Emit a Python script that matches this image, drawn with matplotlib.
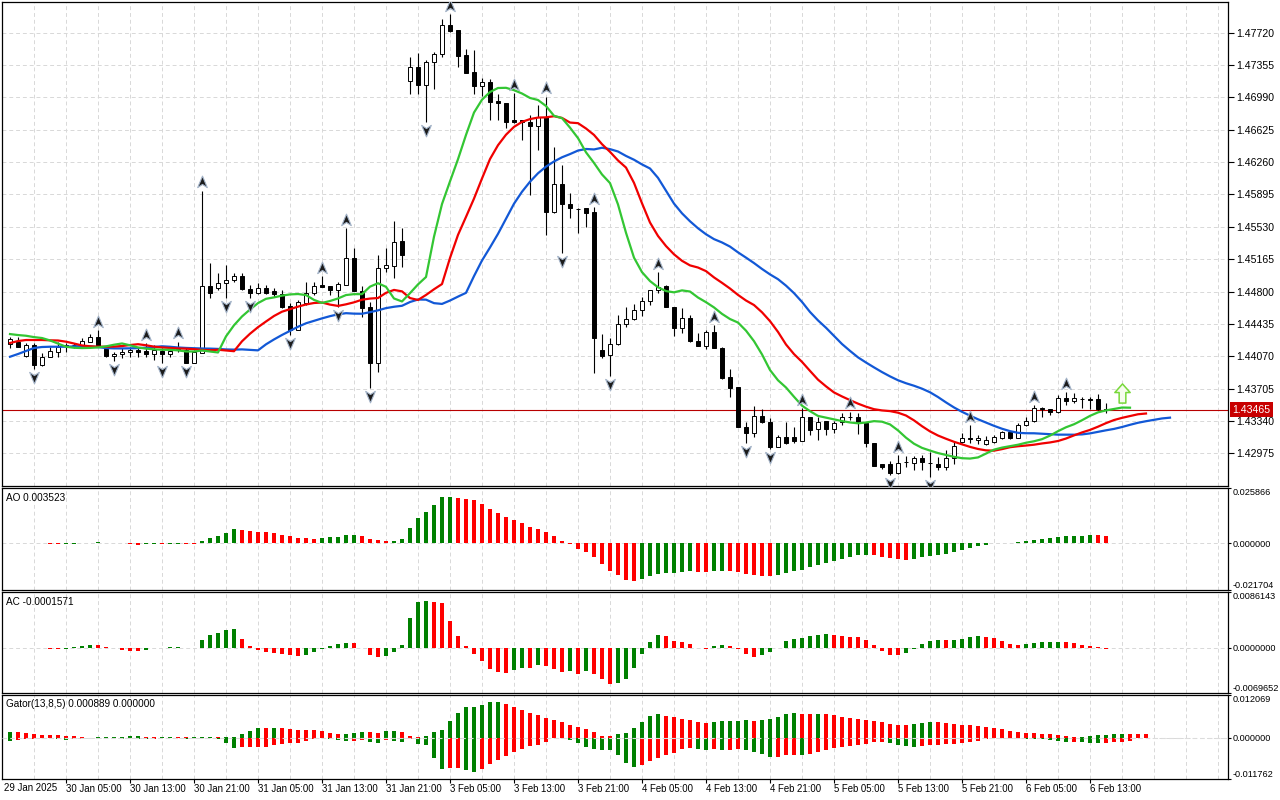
import numpy as np
import pandas as pd
import matplotlib
matplotlib.use("Agg")
import matplotlib.pyplot as plt
from matplotlib.path import Path

plt.rcParams["font.family"] = ["Liberation Sans", "DejaVu Sans"]

# hourly bars (index 0 = first visible bar)
opens = [
    1.44208, 1.44234, 1.44072, 1.44196, 1.43971, 1.44058, 1.44121, 1.44185, 1.44191, 1.44196,
    1.44234, 1.44290, 1.44151, 1.44072, 1.44095, 1.44114, 1.44140, 1.44129, 1.44095, 1.44129,
    1.44095, 1.44177, 1.44140, 1.43997, 1.44103, 1.44862, 1.44836, 1.44892, 1.44930, 1.44975,
    1.44825, 1.44780, 1.44836, 1.44802, 1.44772, 1.44636, 1.44366, 1.44674, 1.44780, 1.44873,
    1.44862, 1.44817, 1.44873, 1.45175, 1.44809, 1.44622, 1.43997, 1.45063, 1.45092, 1.45373,
    1.47175, 1.47330, 1.47130, 1.47386, 1.47476, 1.47807, 1.47751, 1.47469, 1.47280, 1.47122,
    1.47160, 1.46953, 1.46924, 1.46735, 1.46735, 1.46709, 1.46671, 1.46772, 1.45701, 1.46010,
    1.45788, 1.45731, 1.45739, 1.45701, 1.44140, 1.44084, 1.44208, 1.44430, 1.44487, 1.44591,
    1.44693, 1.44817, 1.44862, 1.44622, 1.44385, 1.44498, 1.44245, 1.44185, 1.44340, 1.44159,
    1.43833, 1.43719, 1.43275, 1.43200, 1.43399, 1.43324, 1.43049, 1.43162, 1.43162, 1.43117,
    1.43388, 1.43245, 1.43342, 1.43245, 1.43331, 1.43381, 1.43381, 1.43313, 1.43095, 1.42851,
    1.42851, 1.42749, 1.42880, 1.42869, 1.42918, 1.42865, 1.42851, 1.42817, 1.42918, 1.43099,
    1.43144, 1.43125, 1.43080, 1.43106, 1.43144, 1.43212, 1.43144, 1.43294, 1.43342, 1.43482,
    1.43470, 1.43444, 1.43595, 1.43568, 1.43587, 1.43584, 1.43584, 1.43474,
]
highs = [
    1.44290, 1.44290, 1.44216, 1.44216, 1.44110, 1.44177, 1.44234, 1.44222, 1.44219, 1.44272,
    1.44320, 1.44366, 1.44159, 1.44121, 1.44159, 1.44177, 1.44177, 1.44222, 1.44196, 1.44159,
    1.44185, 1.44236, 1.44159, 1.44140, 1.45938, 1.45119, 1.45013, 1.45099, 1.45006, 1.45006,
    1.44873, 1.44892, 1.44873, 1.44836, 1.44817, 1.44667, 1.44704, 1.44911, 1.44911, 1.44975,
    1.44862, 1.44911, 1.45514, 1.45288, 1.44862, 1.44685, 1.45213, 1.45288, 1.45600, 1.45514,
    1.47443, 1.47495, 1.47412, 1.47506, 1.47875, 1.47931, 1.47751, 1.47533, 1.47525, 1.47206,
    1.47198, 1.47029, 1.46924, 1.47037, 1.46735, 1.46792, 1.46905, 1.46999, 1.46434, 1.46228,
    1.45915, 1.45737, 1.45739, 1.45751, 1.44321, 1.44272, 1.44535, 1.44628, 1.44655, 1.44741,
    1.44817, 1.45024, 1.44873, 1.44622, 1.44610, 1.44535, 1.44328, 1.44366, 1.44422, 1.44177,
    1.43926, 1.43719, 1.43331, 1.43508, 1.43471, 1.43369, 1.43181, 1.43324, 1.43275, 1.43482,
    1.43388, 1.43388, 1.43342, 1.43342, 1.43426, 1.43446, 1.43426, 1.43313, 1.43095, 1.42851,
    1.42891, 1.42956, 1.42944, 1.42944, 1.42956, 1.42993, 1.42930, 1.43012, 1.43106, 1.43200,
    1.43294, 1.43181, 1.43170, 1.43181, 1.43230, 1.43219, 1.43313, 1.43388, 1.43519, 1.43500,
    1.43470, 1.43632, 1.43670, 1.43651, 1.43613, 1.43613, 1.43644, 1.43539,
]
lows = [
    1.44159, 1.44177, 1.44064, 1.43922, 1.43963, 1.44058, 1.44064, 1.44121, 1.44163, 1.44185,
    1.44227, 1.44177, 1.44064, 1.44019, 1.44046, 1.44064, 1.44064, 1.44058, 1.44027, 1.43990,
    1.44058, 1.44121, 1.43997, 1.43997, 1.44103, 1.44723, 1.44817, 1.44723, 1.44911, 1.44817,
    1.44723, 1.44772, 1.44772, 1.44741, 1.44610, 1.44309, 1.44366, 1.44648, 1.44760, 1.44854,
    1.44760, 1.44628, 1.44873, 1.44809, 1.44516, 1.43708, 1.43895, 1.45024, 1.44949, 1.45081,
    1.47029, 1.47029, 1.46716, 1.47082, 1.47449, 1.47725, 1.47337, 1.47262, 1.47029, 1.47006,
    1.46735, 1.46735, 1.46642, 1.46698, 1.46510, 1.45889, 1.46397, 1.45438, 1.45683, 1.45232,
    1.45627, 1.45464, 1.45531, 1.43884, 1.44046, 1.43847, 1.44196, 1.44403, 1.44479, 1.44527,
    1.44648, 1.44780, 1.44622, 1.44302, 1.44328, 1.44234, 1.44185, 1.44148, 1.44159, 1.43810,
    1.43606, 1.43268, 1.43088, 1.43162, 1.43313, 1.43020, 1.43042, 1.43080, 1.43088, 1.43117,
    1.43181, 1.43125, 1.43181, 1.43207, 1.43294, 1.43350, 1.43189, 1.43042, 1.42831, 1.42794,
    1.42730, 1.42741, 1.42824, 1.42786, 1.42786, 1.42707, 1.42786, 1.42786, 1.42854, 1.43088,
    1.43095, 1.43080, 1.43068, 1.43095, 1.43136, 1.43136, 1.43144, 1.43283, 1.43331, 1.43388,
    1.43407, 1.43426, 1.43520, 1.43539, 1.43482, 1.43471, 1.43463, 1.43426,
]
closes = [
    1.44261, 1.44177, 1.44196, 1.43971, 1.44058, 1.44129, 1.44177, 1.44191, 1.44196, 1.44241,
    1.44290, 1.44177, 1.44072, 1.44095, 1.44121, 1.44140, 1.44114, 1.44092, 1.44140, 1.44092,
    1.44132, 1.44140, 1.43997, 1.44121, 1.44862, 1.44786, 1.44892, 1.44930, 1.44975, 1.44825,
    1.44780, 1.44836, 1.44786, 1.44772, 1.44628, 1.44366, 1.44685, 1.44780, 1.44862, 1.44854,
    1.44817, 1.44881, 1.45175, 1.44809, 1.44610, 1.43997, 1.45063, 1.45100, 1.45356, 1.45213,
    1.47330, 1.47130, 1.47386, 1.47480, 1.47807, 1.47743, 1.47461, 1.47269, 1.47122, 1.47167,
    1.46942, 1.46924, 1.46716, 1.46716, 1.46716, 1.46671, 1.46772, 1.45701, 1.46013, 1.45784,
    1.45739, 1.45727, 1.45683, 1.44272, 1.44072, 1.44208, 1.44430, 1.44487, 1.44591, 1.44693,
    1.44817, 1.44854, 1.44622, 1.44385, 1.44498, 1.44245, 1.44185, 1.44340, 1.44159, 1.43821,
    1.43708, 1.43268, 1.43200, 1.43399, 1.43324, 1.43049, 1.43162, 1.43088, 1.43117, 1.43388,
    1.43237, 1.43331, 1.43245, 1.43320, 1.43381, 1.43381, 1.43313, 1.43088, 1.42832, 1.42824,
    1.42749, 1.42869, 1.42877, 1.42918, 1.42880, 1.42861, 1.42817, 1.42918, 1.43057, 1.43144,
    1.43141, 1.43144, 1.43125, 1.43155, 1.43212, 1.43144, 1.43294, 1.43342, 1.43482, 1.43474,
    1.43444, 1.43595, 1.43568, 1.43595, 1.43584, 1.43580, 1.43471, 1.43465,
]

# alligator values shown before the first bar (they come from older history)
jaw_head = [1.44064, 1.44095, 1.44129, 1.44163, 1.44174, 1.44177, 1.44177, 1.44177]
teeth_head = [1.44219, 1.44241, 1.44253, 1.44253, 1.44253]
lips_head = [1.44320, 1.44309, 1.44301]

up_fractals = [11, 17, 21, 24, 39, 42, 55, 63, 67, 73, 81, 88, 99, 105, 111, 120, 128, 132]
down_fractals = [3, 13, 19, 22, 27, 30, 35, 41, 45, 52, 69, 75, 92, 95, 110, 115]

signal_bar = [139]
signal_price = [1.43655]

price_ticks = [1.47720, 1.47355, 1.46990, 1.46625, 1.46260, 1.45895, 1.45530,
               1.45165, 1.44800, 1.44435, 1.44070, 1.43705, 1.43340, 1.42975]
time_labels = ["30 Jan 05:00", "30 Jan 13:00", "30 Jan 21:00", "31 Jan 05:00",
               "31 Jan 13:00", "31 Jan 21:00", "3 Feb 05:00", "3 Feb 13:00",
               "3 Feb 21:00", "4 Feb 05:00", "4 Feb 13:00", "4 Feb 21:00",
               "5 Feb 05:00", "5 Feb 13:00", "5 Feb 21:00", "6 Feb 05:00", "6 Feb 13:00"]
first_label = "29 Jan 2025"

ao_range = (-0.021704, 0.025866)
ac_range = (-0.0069652, 0.0086143)
gator_range = (-0.011762, 0.012069)

GREEN = "#008000"
RED = "#ff0000"

o = np.array(opens)
h = np.array(highs)
l = np.array(lows)
c = np.array(closes)
idx = np.arange(len(o))
median = (h + l) / 2


def smma(vals, period, seed):
    out = np.empty(len(vals))
    prev = seed
    for i, v in enumerate(vals):
        prev = (prev * (period - 1) + v) / period
        out[i] = prev
    return out


def trend_colors(vals):
    cols = []
    cur = GREEN
    for i in range(len(vals)):
        if i > 0:
            if vals[i] > vals[i - 1]:
                cur = GREEN
            elif vals[i] < vals[i - 1]:
                cur = RED
        cols.append(cur)
    return cols


jaw = np.concatenate([jaw_head, smma(median, 13, jaw_head[-1])])
teeth = np.concatenate([teeth_head, smma(median, 8, teeth_head[-1])])
lips = np.concatenate([lips_head, smma(median, 5, lips_head[-1])])

med = pd.Series(median)
ao = (med.rolling(5, min_periods=1).mean() - med.rolling(34, min_periods=1).mean()).to_numpy()
ac = ao - pd.Series(ao).rolling(5, min_periods=1).mean().to_numpy()

gator_up = np.abs(jaw[:len(teeth)] - teeth)
gator_dn = np.abs(teeth[:len(lips)] - lips)

# ---- figure, panels placed in pixels like the terminal window ----
W, H = 1280, 800
fig = plt.figure(figsize=(W / 100, H / 100), dpi=100)


def px_axes(x0, y0, x1, y1):
    return fig.add_axes([x0 / W, 1 - y1 / H, (x1 - x0) / W, (y1 - y0) / H])


ax = px_axes(2, 2, 1228, 486)
ax_ao = px_axes(2, 488, 1228, 590)
ax_ac = px_axes(2, 592, 1228, 693)
ax_g = px_axes(2, 695, 1228, 779)

grid_kw = dict(color="#d8d8d8", linestyle=(0, (4, 3)), linewidth=0.7)
for a in (ax, ax_ao, ax_ac, ax_g):
    a.set_xlim(-1, 152.25)
    a.set_xticks(np.arange(3, 152, 4), minor=True)
    a.tick_params(axis="x", which="minor", length=0)
    a.grid(True, which="both", axis="x", **grid_kw)
    a.grid(True, which="major", axis="y", **grid_kw)
    a.set_axisbelow(True)
    a.yaxis.tick_right()
    a.tick_params(axis="y", direction="out", length=2.5, labelsize=6.6, pad=1, width=0.8)
    for sp in a.spines.values():
        sp.set_linewidth(0.9)
        sp.set_color("black")
for a in (ax, ax_ao, ax_ac):
    a.set_xticks([])

# ---- price panel ----
ax.set_ylim(1.42606, 1.48066)
ax.set_yticks(price_ticks)
ax.set_yticklabels([f"{p:.5f}" for p in price_ticks])
ax.tick_params(axis="y", length=4, labelsize=7.6, pad=2)

ax.vlines(idx, l, h, color="black", linewidth=0.8, zorder=3)
body_lo = np.minimum(o, c)
body_h = np.maximum(np.abs(c - o), 0.000012)
ax.bar(idx, body_h, bottom=body_lo, width=0.62,
       color=np.where(c >= o, "white", "black"), edgecolor="black",
       linewidth=0.7, zorder=4)

ax.plot(np.arange(len(jaw)), jaw, color="#1258d6", linewidth=1.6, zorder=5)
ax.plot(np.arange(len(teeth)), teeth, color="#f00000", linewidth=1.6, zorder=5)
ax.plot(np.arange(len(lips)), lips, color="#33c633", linewidth=1.6, zorder=5)

up_path = Path([(0, 1), (0.75, -0.8), (0, -0.3), (-0.75, -0.8), (0, 1)],
               [Path.MOVETO, Path.LINETO, Path.LINETO, Path.LINETO, Path.CLOSEPOLY])
down_path = Path([(0, -1), (0.75, 0.8), (0, 0.3), (-0.75, 0.8), (0, -1)],
                 [Path.MOVETO, Path.LINETO, Path.LINETO, Path.LINETO, Path.CLOSEPOLY])
frac_off = 0.00092
ax.scatter(up_fractals, h[up_fractals] + frac_off, marker=up_path, s=85,
           facecolor="#1c1c1c", edgecolor="#a3b3c8", linewidth=0.8, zorder=6)
ax.scatter(down_fractals, l[down_fractals] - frac_off, marker=down_path, s=85,
           facecolor="#1c1c1c", edgecolor="#a3b3c8", linewidth=0.8, zorder=6)

sig_path = Path([(0, 1), (0.8, 0.1), (0.35, 0.1), (0.35, -1), (-0.35, -1),
                 (-0.35, 0.1), (-0.8, 0.1), (0, 1)],
                [Path.MOVETO] + [Path.LINETO] * 6 + [Path.CLOSEPOLY])
ax.scatter(signal_bar, signal_price, marker=sig_path, s=190, facecolor="#f6fcee",
           edgecolor="#78d83a", linewidth=1.1, zorder=6)

bid = closes[-1]
ax.axhline(bid, color="#b80000", linewidth=0.8, zorder=2)
ax.annotate(f"{bid:.5f}", xy=(1.0, bid), xycoords=("axes fraction", "data"),
            xytext=(3, 0), textcoords="offset points", ha="left", va="center",
            fontsize=7.6, color="white", annotation_clip=False,
            bbox=dict(boxstyle="square,pad=0.25", fc="#c80000", ec="none"))

# ---- indicator panels ----
w = 0.5
ax_ao.bar(idx, ao, width=w, color=trend_colors(ao), zorder=3)
ax_ac.bar(idx, ac, width=w, color=trend_colors(ac), zorder=3)
ax_g.bar(np.arange(len(gator_up)), gator_up, width=w, color=trend_colors(gator_up), zorder=3)
ax_g.bar(np.arange(len(gator_dn)), -gator_dn, width=w, color=trend_colors(gator_dn), zorder=3)
ax_g.axhline(0, color="#dcdcdc", linestyle=(0, (4, 3)), linewidth=0.8, zorder=4)

for a, rng, fmt, title in (
        (ax_ao, ao_range, "{:.6f}", "AO 0.003523"),
        (ax_ac, ac_range, "{:.7f}", "AC -0.0001571"),
        (ax_g, gator_range, "{:.6f}", "Gator(13,8,5) 0.000889 0.000000")):
    a.set_ylim(*rng)
    a.set_yticks([rng[0], 0, rng[1]])
    a.set_yticklabels([fmt.format(rng[0]), fmt.format(0), fmt.format(rng[1])])
    labs = a.get_yticklabels()
    labs[0].set_va("bottom")
    labs[-1].set_va("top")
    a.text(0.003, 0.955, title, transform=a.transAxes, ha="left", va="top", fontsize=7.2)

# time axis under the last panel
tick_bars = np.arange(7, 7 + 8 * len(time_labels), 8)
ax_g.set_xticks(tick_bars)
ax_g.set_xticklabels(time_labels, fontsize=6.9)
for lab in ax_g.get_xticklabels():
    lab.set_ha("left")
ax_g.tick_params(axis="x", which="major", direction="out", length=3, pad=0.5, width=0.8)
ax_g.text(-0.75, -0.05, first_label, transform=ax_g.get_xaxis_transform(),
          ha="left", va="top", fontsize=6.9)

fig.savefig("out.png", dpi=100)
